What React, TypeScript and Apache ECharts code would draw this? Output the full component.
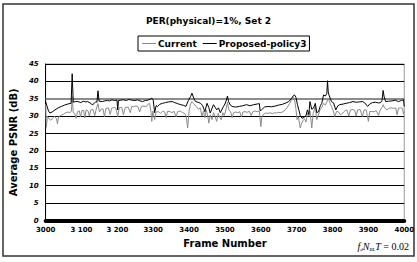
import React, { useEffect, useRef } from "react";
import * as echarts from "echarts";

const titleText = "PER(physical)=1%, Set 2";
const seriesNames = ["Current", "Proposed-policy3"];
const xTickLabels: Record<number, string> = {
  3000: "3000", 3100: "3 100", 3200: "3 200", 3300: "3300", 3400: "3400",
  3500: "3500", 3600: "3600", 3700: "3700", 3800: "3800", 3900: "3900", 4000: "4000",
};

const currentFrames = [
  3000, 3002, 3005, 3010, 3015, 3020, 3025, 3030, 3033, 3036, 3042, 3050, 3056, 3062, 3068, 3072, 3074, 3077, 3081, 3085,
  3089, 3094, 3097, 3101, 3106, 3109, 3113, 3118, 3122, 3126, 3132, 3137, 3141, 3146, 3150, 3155, 3160, 3164, 3168, 3175,
  3180, 3184, 3190, 3196, 3201, 3205, 3212, 3217, 3222, 3230, 3236, 3240, 3246, 3252, 3258, 3262, 3267, 3274, 3280, 3285,
  3290, 3294, 3296, 3299, 3304, 3308, 3314, 3320, 3326, 3332, 3336, 3340, 3347, 3352, 3358, 3364, 3368, 3375, 3382, 3388,
  3392, 3396, 3400, 3404, 3408, 3413, 3420, 3426, 3431, 3436, 3440, 3444, 3448, 3452, 3455, 3459, 3464, 3468, 3472, 3477,
  3481, 3486, 3490, 3494, 3498, 3502, 3507, 3511, 3516, 3520, 3524, 3530, 3536, 3541, 3546, 3550, 3556, 3562, 3568, 3573,
  3578, 3584, 3590, 3596, 3600, 3603, 3608, 3614, 3620, 3626, 3632, 3638, 3644, 3650, 3656, 3662, 3668, 3674, 3680, 3685,
  3690, 3694, 3698, 3701, 3705, 3710, 3714, 3718, 3722, 3726, 3730, 3734, 3737, 3742, 3746, 3752, 3756, 3760, 3765, 3770,
  3775, 3780, 3784, 3788, 3792, 3797, 3802, 3806, 3811, 3816, 3822, 3829, 3835, 3840, 3845, 3850, 3857, 3862, 3866, 3870,
  3877, 3883, 3888, 3894, 3900, 3904, 3910, 3916, 3922, 3928, 3933, 3938, 3941, 3945, 3952, 3958, 3964, 3970, 3976, 3980,
  3984, 3990, 3995, 3998, 4000,
];
const currentValues = [
  33.5, 26.8, 30.0, 29.2, 28.8, 29.5, 30.0, 29.3, 27.8, 29.8, 30.2, 30.6, 31.0, 31.2, 31.0, 31.5, 35.6, 31.0, 30.8, 29.4,
  31.3, 31.5, 29.8, 31.6, 31.7, 29.5, 31.8, 31.6, 30.0, 31.8, 31.9, 30.2, 32.0, 33.6, 31.2, 32.0, 32.1, 29.8, 32.2, 32.4,
  30.5, 32.3, 32.5, 32.3, 29.8, 32.4, 32.6, 30.4, 32.5, 32.6, 31.0, 32.8, 32.7, 33.0, 32.6, 31.2, 32.8, 32.9, 32.7, 33.4,
  33.7, 31.0, 28.5, 31.5, 29.0, 31.2, 31.3, 30.8, 31.4, 31.2, 29.6, 31.4, 31.3, 31.0, 31.4, 29.8, 31.3, 31.5, 31.0, 30.8,
  29.9, 26.6, 31.5, 33.5, 34.2, 33.6, 32.8, 32.0, 32.4, 30.0, 31.5, 29.5, 31.8, 30.0, 28.0, 30.4, 29.0, 31.0, 30.0, 28.5,
  30.8, 29.5, 29.0, 31.0, 30.2, 31.5, 34.0, 31.8, 31.2, 29.5, 31.0, 31.2, 31.0, 31.3, 29.8, 31.2, 31.3, 31.1, 31.4, 30.2,
  31.3, 31.5, 31.3, 31.5, 27.0, 29.8, 30.6, 30.9, 30.8, 31.0, 30.7, 31.0, 30.9, 31.1, 31.0, 31.3, 31.8, 32.6, 33.6, 34.6,
  35.4, 35.0, 32.0, 29.0, 29.8, 26.6, 28.0, 28.8, 29.2, 28.3, 30.9, 30.0, 31.5, 26.6, 30.8, 32.8, 29.0, 30.2, 31.8, 32.5,
  33.7, 33.2, 34.0, 35.2, 34.0, 32.8, 31.5, 29.9, 31.3, 31.3, 30.4, 30.9, 31.6, 31.8, 30.0, 31.8, 31.9, 31.7, 30.0, 31.8,
  31.9, 29.9, 31.8, 31.8, 28.5, 31.4, 31.3, 31.3, 31.6, 30.2, 31.8, 32.5, 33.3, 32.4, 31.8, 32.3, 32.4, 32.2, 32.4, 30.4,
  32.3, 32.4, 32.2, 30.6, 31.3,
];

const proposedFrames = [
  3000, 3004, 3008, 3012, 3018, 3026, 3035, 3044, 3053, 3062, 3071, 3074, 3077, 3083, 3090, 3098, 3105, 3112, 3117, 3124,
  3130, 3135, 3140, 3143, 3146, 3149, 3158, 3165, 3172, 3178, 3185, 3192, 3199, 3201, 3203, 3210, 3217, 3225, 3232, 3240,
  3249, 3256, 3263, 3270, 3278, 3285, 3292, 3296, 3300, 3304, 3308, 3312, 3318, 3326, 3334, 3342, 3353, 3360, 3368, 3377,
  3385, 3391, 3398, 3404, 3408, 3413, 3418, 3425, 3432, 3438, 3444, 3450, 3455, 3459, 3463, 3468, 3473, 3477, 3482, 3487,
  3491, 3496, 3500, 3504, 3507, 3510, 3515, 3520, 3530, 3540, 3550, 3560, 3570, 3580, 3590, 3596, 3598, 3602, 3610, 3620,
  3630, 3640, 3650, 3660, 3670, 3678, 3685, 3690, 3694, 3698, 3702, 3706, 3710, 3715, 3720, 3726, 3730, 3734, 3737, 3742,
  3747, 3752, 3756, 3761, 3766, 3770, 3775, 3780, 3784, 3786, 3788, 3790, 3797, 3803, 3809, 3815, 3820, 3830, 3838, 3847,
  3857, 3866, 3875, 3884, 3890, 3898, 3904, 3911, 3920, 3928, 3934, 3938, 3941, 3944, 3948, 3956, 3966, 3975, 3984, 3992,
  3998, 4000,
];
const proposedValues = [
  34.2, 32.8, 31.5, 30.9, 31.2, 31.8, 32.4, 32.8, 33.2, 33.5, 33.7, 42.2, 34.0, 34.2, 34.2, 33.9, 34.3, 34.1, 34.2, 33.8,
  33.3, 33.6, 34.2, 34.0, 37.3, 34.3, 34.2, 34.4, 34.5, 34.4, 34.7, 34.5, 34.6, 31.8, 34.5, 34.6, 34.7, 34.5, 34.8, 34.6,
  34.5, 34.7, 34.4, 34.2, 34.5, 34.6, 34.9, 35.2, 34.6, 31.0, 33.0, 32.8, 33.4, 33.7, 33.9, 34.1, 34.2, 33.9, 33.6, 33.3,
  33.1, 32.8, 34.5, 35.6, 36.6, 35.2, 34.2, 34.0, 33.7, 33.0, 31.3, 33.7, 32.5, 30.9, 32.0, 33.3, 32.5, 31.8, 32.4, 31.0,
  31.8, 32.8, 33.5, 34.6, 35.8, 34.2, 33.2, 32.8, 32.6, 32.8, 33.0, 33.3, 33.0, 33.3, 33.5, 33.6, 31.6, 31.8, 32.6, 32.8,
  32.7, 32.9, 33.2, 33.4, 33.8, 34.2, 35.0, 35.8, 36.1, 35.4, 33.4, 31.8, 30.2, 29.4, 29.6, 30.2, 31.8, 30.5, 34.2, 32.0,
  32.3, 33.7, 31.0, 31.3, 33.0, 33.7, 36.1, 35.8, 36.5, 40.2, 37.0, 36.1, 34.2, 33.8, 31.8, 33.0, 33.3, 33.5, 33.7, 33.9,
  34.2, 34.0, 34.1, 34.2, 33.8, 32.8, 33.5, 33.9, 34.0, 33.8, 33.9, 34.5, 37.4, 35.5, 34.2, 34.3, 34.4, 34.6, 34.2, 34.5,
  34.7, 32.8,
];

const FONT = "DejaVu Sans";

export default function App() {
  const ref = useRef<HTMLDivElement>(null);
  useEffect(() => {
    if (!ref.current) return;
    const chart = echarts.init(ref.current, undefined, { renderer: "svg" });
    const currentData = currentFrames.map((f, i) => [f, currentValues[i]]);
    const proposedData = proposedFrames.map((f, i) => [f, proposedValues[i]]);
    chart.setOption({
      animation: false,
      backgroundColor: "#ffffff",
      title: {
        text: titleText,
        left: "center",
        top: 11,
        textStyle: { fontFamily: FONT, fontSize: 9, fontWeight: "bold", color: "#000" },
      },
      legend: {
        data: seriesNames,
        left: 138,
        top: 36,
        itemWidth: 14,
        itemHeight: 1,
        itemGap: 6,
        icon: "rect",
        padding: [3, 3, 3, 4],
        borderColor: "#000",
        borderWidth: 1,
        textStyle: { fontFamily: FONT, fontSize: 9, fontWeight: "bold", color: "#000", padding: [0, 0, 0, -3] },
      },
      grid: {
        left: 44,
        right: 8,
        top: 64,
        bottom: 41.5,
        show: true,
        borderColor: "#999",
        borderWidth: 1,
        backgroundColor: "#fff",
      },
      xAxis: {
        type: "value",
        min: 3000,
        max: 4000,
        interval: 100,
        name: "Frame Number",
        nameLocation: "middle",
        nameGap: 14,
        nameTextStyle: { fontFamily: FONT, fontSize: 10, fontWeight: "bold", color: "#000" },
        axisLine: { show: true, lineStyle: { color: "#000", width: 4 } },
        axisTick: { show: false },
        splitLine: { show: false },
        axisLabel: {
          fontFamily: FONT,
          fontSize: 7,
          fontWeight: "bold",
          color: "#000",
          margin: 6,
          formatter: (v: number) => xTickLabels[v] ?? String(v),
        },
      },
      yAxis: {
        type: "value",
        min: 0,
        max: 45,
        interval: 5,
        name: "Average PSNR (dB)",
        nameLocation: "middle",
        nameGap: 24,
        nameTextStyle: { fontFamily: FONT, fontSize: 10, fontWeight: "bold", color: "#000" },
        axisLine: { show: true, lineStyle: { color: "#000", width: 1 } },
        axisTick: { show: false },
        splitLine: { show: true, lineStyle: { color: "#000", width: 1 } },
        axisLabel: {
          fontFamily: FONT,
          fontSize: 7,
          fontWeight: "bold",
          fontStyle: "italic",
          color: "#000",
          margin: 7,
        },
      },
      series: [
        {
          name: seriesNames[0],
          type: "line",
          data: currentData,
          showSymbol: false,
          lineStyle: { color: "#8a8a8a", width: 1 },
          itemStyle: { color: "#8a8a8a" },
          z: 3,
          markLine: {
            silent: true,
            symbol: "none",
            label: { show: false },
            lineStyle: { color: "#8c8c8c", width: 2, type: "solid" },
            data: [{ yAxis: 35 }],
            z: 1,
          },
        },
        {
          name: seriesNames[1],
          type: "line",
          data: proposedData,
          showSymbol: false,
          lineStyle: { color: "#000", width: 1 },
          itemStyle: { color: "#000" },
          z: 4,
        },
      ],
      graphic: [
        {
          type: "rect",
          shape: { x: 3, y: 4, width: 411, height: 252 },
          style: { fill: "none", stroke: "#333", lineWidth: 1.5 },
          silent: true,
        },
        {
          type: "text",
          right: 8,
          top: 241,
          style: {
            text: "{i|f}{s|d}{i|N}{s|BL}{i|T}{n| = 0.02}",
            rich: {
              i: { fontFamily: "Liberation Serif", fontStyle: "italic", fontSize: 10, fill: "#000" },
              s: { fontFamily: "Liberation Serif", fontStyle: "italic", fontSize: 5, fill: "#000", padding: [6, 0, 0, 0] },
              n: { fontFamily: "Liberation Serif", fontSize: 10, fill: "#000" },
            },
          },
        },
      ],
    });
    return () => chart.dispose();
  }, []);
  return <div ref={ref} style={{ width: 417, height: 262, position: "absolute", left: 0, top: 0 }} />;
}
